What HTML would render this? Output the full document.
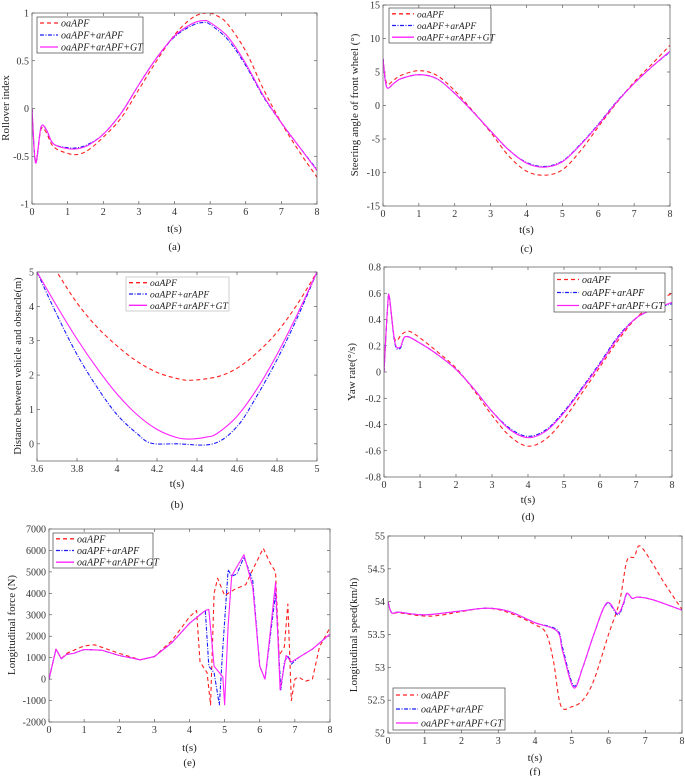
<!DOCTYPE html>
<html><head><meta charset="utf-8"><style>
body{margin:0;background:#fff;}
svg, svg text{font-family:"Liberation Serif","Times New Roman",serif;}
</style></head><body>
<svg id="fig" width="685" height="776" viewBox="0 0 685 776" xmlns="http://www.w3.org/2000/svg" font-family="Liberation Serif, serif"></svg>
<script>
// ---------- (a) Rollover index ----------
const aRedT=[0,0.1,0.25,0.4,0.6,1,1.3,1.6,2,2.5,3,3.5,4,4.5,4.9,5.2,5.5,6,6.5,7,7.5,8];
const aRedY=[0,-0.55,-0.22,-0.25,-0.4,-0.47,-0.48,-0.43,-0.3,-0.1,0.2,0.5,0.77,0.95,1.0,0.97,0.88,0.6,0.2,-0.15,-0.45,-0.72];
const aBlueT=[0,0.1,0.25,0.4,0.6,1,1.3,1.6,2,2.5,3,3.5,4,4.5,4.8,5,5.5,6,6.5,7,7.5,8];
const aBlueY=[0,-0.57,-0.2,-0.22,-0.37,-0.41,-0.41,-0.37,-0.27,-0.05,0.25,0.53,0.75,0.87,0.9,0.88,0.72,0.45,0.12,-0.15,-0.4,-0.64];
const aMagT=[0,0.1,0.25,0.4,0.6,1,1.3,1.6,2,2.5,3,3.5,4,4.5,4.8,5,5.5,6,6.5,7,7.5,8];
const aMagY=[0,-0.57,-0.2,-0.22,-0.37,-0.42,-0.42,-0.38,-0.27,-0.05,0.25,0.53,0.76,0.89,0.92,0.9,0.75,0.47,0.13,-0.15,-0.4,-0.65];
const aXTicks=[0,1,2,3,4,5,6,7,8];
const aYTicks=[-1,-0.5,0,0.5,1];
// ---------- (b) Distance ----------
const bRedT=[3.6,3.7,3.8,3.9,4,4.1,4.2,4.3,4.37,4.5,4.6,4.7,4.8,4.9,5];
const bRedY=[6,5,4.1,3.4,2.85,2.4,2.08,1.9,1.85,1.95,2.2,2.65,3.25,4.05,5];
const bBlueT=[3.6,3.7,3.8,3.9,4,4.1,4.17,4.3,4.48,4.6,4.7,4.8,4.9,5];
const bBlueY=[5,3.75,2.6,1.65,0.85,0.3,0.02,0,0,0.5,1.4,2.45,3.65,5];
const bMagT=[3.6,3.7,3.8,3.9,4,4.1,4.2,4.3,4.37,4.45,4.5,4.6,4.7,4.8,4.9,5];
const bMagY=[5,4.0,3.05,2.2,1.45,0.85,0.42,0.18,0.14,0.2,0.3,0.8,1.6,2.6,3.75,5];
const bXTicks=[3.6,3.8,4,4.2,4.4,4.6,4.8,5];
const bYTicks=[0,1,2,3,4,5];
// ---------- (c) Steering angle ----------
const cRedT=[0,0.1,0.3,0.5,1,1.5,2,2.5,3,3.5,4,4.5,5,5.5,6,6.5,7,7.5,8];
const cRedY=[7,3.3,3.8,4.5,5.2,4.5,2.2,-0.8,-4,-7.5,-9.8,-10.4,-9.6,-6.8,-3.2,0.3,3.5,6.2,9];
const cBlueT=[0,0.1,0.3,0.5,1,1.5,2,2.5,3,3.5,4,4.5,5,5.5,6,6.5,7,7.5,8];
const cBlueY=[7,2.8,3.3,4,4.6,4,1.8,-0.9,-3.8,-6.6,-8.5,-9.1,-8.3,-5.8,-2.8,0.5,3.3,5.8,8];
const cMagT=[0,0.1,0.3,0.5,1,1.5,2,2.5,3,3.5,4,4.5,5,5.5,6,6.5,7,7.5,8];
const cMagY=[7,2.8,3.3,4,4.6,4,1.8,-0.9,-3.8,-6.6,-8.6,-9.2,-8.4,-5.9,-2.9,0.4,3.3,5.8,8.1];
const cXTicks=[0,1,2,3,4,5,6,7,8];
const cYTicks=[-15,-10,-5,0,5,10,15];
// ---------- (d) Yaw rate ----------
const dRedT=[0,0.1,0.15,0.3,0.5,0.7,1,1.5,2,2.5,3,3.5,4,4.5,5,5.5,6,6.5,7,7.5,8];
const dRedY=[0,0.5,0.56,0.25,0.29,0.31,0.26,0.15,0.03,-0.14,-0.33,-0.49,-0.565,-0.51,-0.36,-0.16,0.04,0.24,0.41,0.52,0.6];
const dBlueT=[0,0.1,0.15,0.3,0.45,0.6,1,1.5,2,2.5,3,3.5,4,4.5,5,5.5,6,6.5,7,7.5,8];
const dBlueY=[0,0.5,0.57,0.22,0.18,0.27,0.22,0.13,0.02,-0.13,-0.3,-0.43,-0.49,-0.44,-0.3,-0.12,0.07,0.27,0.41,0.48,0.52];
const dMagT=[0,0.1,0.15,0.3,0.45,0.6,1,1.5,2,2.5,3,3.5,4,4.5,5,5.5,6,6.5,7,7.5,8];
const dMagY=[0,0.5,0.57,0.23,0.19,0.27,0.22,0.13,0.02,-0.13,-0.3,-0.44,-0.5,-0.45,-0.31,-0.13,0.06,0.26,0.41,0.48,0.53];
const dXTicks=[0,1,2,3,4,5,6,7,8];
const dYTicks=[-0.8,-0.6,-0.4,-0.2,0,0.2,0.4,0.6,0.8];
// ---------- (e) Longitudinal force ----------
const eRedT=[0,0.2,0.35,0.5,1,1.3,2,2.6,3,3.5,4,4.2,4.3,4.5,4.6,4.7,4.8,5,5.3,5.6,5.8,6.1,6.3,6.45,6.55,6.7,6.8,6.9,7.0,7.1,7.3,7.5,7.7,8];
const eRedY=[0,1400,950,1200,1550,1600,1200,900,1050,1800,2900,3200,800,300,-1200,4000,4700,3900,4200,4400,5100,6100,5400,5000,1100,1500,3500,-1000,0,100,-100,0,1500,2400];
const eBlueT=[0,0.2,0.35,0.5,0.7,1,1.5,2,2.6,3,3.5,4,4.45,4.55,4.7,4.85,4.95,5.1,5.2,5.35,5.55,5.8,6,6.15,6.3,6.45,6.6,6.7,6.8,6.9,7.1,7.5,8];
const eBlueY=[0,1400,950,1150,1200,1380,1350,1100,900,1050,1700,2600,3200,600,300,-1200,1500,5100,4800,4900,5700,4600,600,0,2000,4000,-500,800,1100,700,1000,1400,2100];
const eMagT=[0,0.2,0.35,0.5,0.7,1,1.5,2,2.6,3,3.5,4,4.45,4.55,4.7,4.95,5,5.1,5.2,5.3,5.55,5.8,6,6.15,6.3,6.45,6.58,6.75,6.9,7.1,7.5,8];
const eMagY=[0,1400,950,1150,1200,1380,1350,1100,900,1050,1700,2600,3200,3250,600,100,-1200,2500,4800,5100,5800,4300,600,0,2200,4500,-500,1100,800,1000,1400,2100];
const eXTicks=[0,1,2,3,4,5,6,7,8];
const eYTicks=[-2000,-1000,0,1000,2000,3000,4000,5000,6000,7000];
// ---------- (f) Longitudinal speed ----------
const fRedT=[0,0.1,0.3,1,1.5,2,2.7,3.3,4,4.3,4.5,4.7,5,5.3,5.6,6,6.3,6.5,6.7,6.85,7.2,7.5,8];
const fRedY=[54,53.83,53.83,53.78,53.8,53.85,53.9,53.83,53.65,53.52,53.1,52.42,52.4,52.5,52.8,53.5,54.0,54.62,54.68,54.85,54.58,54.3,53.88];
const fBlueT=[0,0.1,0.3,1,2,2.7,3.3,4,4.6,4.75,5.05,5.3,5.6,5.95,6.25,6.4,6.5,6.65,6.8,7.2,8];
const fBlueY=[54,53.83,53.84,53.8,53.86,53.9,53.85,53.68,53.57,53.3,52.72,53.0,53.5,53.97,53.8,53.95,54.12,54.05,54.07,54.03,53.87];
const fMagT=[0,0.1,0.3,1,2,2.7,3.3,4,4.6,4.75,5.05,5.3,5.6,5.95,6.25,6.4,6.5,6.65,6.8,7.2,8];
const fMagY=[54,53.83,53.84,53.8,53.86,53.9,53.85,53.68,53.55,53.25,52.69,53.0,53.5,53.98,53.82,53.97,54.13,54.05,54.07,54.03,53.87];
const fXTicks=[0,1,2,3,4,5,6,7,8];
const fYTicks=[52,52.5,53,53.5,54,54.5,55];

const NS="http://www.w3.org/2000/svg";
const FONT='Liberation Serif, serif';
const svg=document.getElementById('fig');
function mk(tag,attrs,parent){const e=document.createElementNS(NS,tag);for(const k in attrs)e.setAttribute(k,attrs[k]);if(tag==='text')e.setAttribute('font-family',FONT);(parent||svg).appendChild(e);return e;}

function pathFor(P,smooth){
  let d='M'+P[0][0].toFixed(2)+','+P[0][1].toFixed(2);
  for(let i=0;i<P.length-1;i++){
    if(!smooth){d+='L'+P[i+1][0].toFixed(2)+','+P[i+1][1].toFixed(2);continue;}
    const p0=P[Math.max(0,i-1)],p1=P[i],p2=P[i+1],p3=P[Math.min(P.length-1,i+2)];
    const c1x=p1[0]+(p2[0]-p0[0])/6,c1y=p1[1]+(p2[1]-p0[1])/6;
    const c2x=p2[0]-(p3[0]-p1[0])/6,c2y=p2[1]-(p3[1]-p1[1])/6;
    d+='C'+c1x.toFixed(2)+','+c1y.toFixed(2)+' '+c2x.toFixed(2)+','+c2y.toFixed(2)+' '+p2[0].toFixed(2)+','+p2[1].toFixed(2);
  }
  return d;
}

function panel(p){
  const g=mk('g',{});
  
  
  const sx=v=>p.x0+(v-p.xmin)/(p.xmax-p.xmin)*(p.x1-p.x0);
  const sy=v=>p.y1-(v-p.ymin)/(p.ymax-p.ymin)*(p.y1-p.y0);
  const clipId='clip'+p.tag;
  const cp=mk('clipPath',{id:clipId},g);
  mk('rect',{x:p.x0,y:p.y0,width:p.x1-p.x0,height:p.y1-p.y0},cp);
  p.xt.forEach(v=>{
    const X=sx(v);
    const t=mk('line',{x1:X,x2:X,y1:p.y1,y2:p.y1-3,stroke:'#444','stroke-width':0.6},g);
    
    
    mk('line',{x1:X,x2:X,y1:p.y0,y2:p.y0+3,stroke:'#444','stroke-width':0.6},g);
    const l=mk('text',{x:X,y:p.y1+11,'font-size':10,'text-anchor':'middle',fill:'#333'},g);
    l.textContent=String(v);
    
    
  });
  p.yt.forEach(v=>{
    const Y=sy(v);
    const t=mk('line',{x1:p.x0,x2:p.x0+3,y1:Y,y2:Y,stroke:'#444','stroke-width':0.6},g);
    
    
    mk('line',{x1:p.x1,x2:p.x1-3,y1:Y,y2:Y,stroke:'#444','stroke-width':0.6},g);
    const l=mk('text',{x:p.x0-3,y:Y+3.5,'font-size':10,'text-anchor':'end',fill:'#333'},g);
    l.textContent=String(v);
    
    
  });
  const styles=[
    {c:'#ff2020',d:'4,3',w:1.1,n:'series-oaapf'},
    {c:'#1a1aff',d:'4,1.5,1,1.5',w:1.1,n:'series-oaapf-arapf'},
    {c:'#ff22ff',d:'',w:1.1,n:'series-oaapf-arapf-gt'}];
  p.series.forEach((s,i)=>{
    const st=styles[i];
    const P=s[0].map((t,j)=>[sx(t),sy(s[1][j])]);
    const path=mk('path',{d:pathFor(P,p.smooth),fill:'none',stroke:st.c,'stroke-width':st.w,'stroke-dasharray':st.d,'clip-path':'url(#'+clipId+')','stroke-linejoin':'round'},g);
    
    
  });
  const box=mk('rect',{x:p.x0,y:p.y0,width:p.x1-p.x0,height:p.y1-p.y0,fill:'none',stroke:'#555','stroke-width':0.7},g);
  
  
  const xl=mk('text',{x:(p.x0+p.x1)/2,y:p.xlY,'font-size':11,'text-anchor':'middle',fill:'#222'},g);
  xl.textContent='t(s)';
  
  
  const yl=mk('text',{x:0,y:0,'font-size':p.ylSize||11,'text-anchor':'middle',fill:'#222',transform:'translate('+p.ylX+','+p.ylY+') rotate(-90)'},g);
  yl.textContent=p.ylabel;
  
  
  const cap=mk('text',{x:(p.x0+p.x1)/2,y:p.capY,'font-size':11,'text-anchor':'middle',fill:'#222'},g);
  cap.textContent='('+p.tag+')';
  
  
  const L=p.leg;
  const lg=mk('g',{},g);
  
  
  mk('rect',{x:L.x,y:L.y,width:L.w,height:L.h,fill:'#fff',stroke:L.bs||'#444','stroke-width':0.7},lg);
  const names=['oaAPF','oaAPF+arAPF','oaAPF+arAPF+GT'];
  names.forEach((n,i)=>{
    const yy=L.y+L.h/6*(2*i+1);
    const st=styles[i];
    const ln=mk('line',{x1:L.x+3,x2:L.x+3+L.ll,y1:yy,y2:yy,stroke:st.c,'stroke-width':1.3,'stroke-dasharray':st.d},lg);
    
    
    const tx=mk('text',{x:L.x+6+L.ll,y:yy+3.5,'font-size':L.fs||10,'font-style':'italic',fill:'#222'},lg);
    tx.textContent=n;
    
    
  });
}

panel({tag:'a',name:'rollover-index-chart',smooth:true,x0:32,x1:317,y0:13,y1:204,xmin:0,xmax:8,ymin:-1,ymax:1,xt:aXTicks,yt:aYTicks,
  series:[[aRedT,aRedY],[aBlueT,aBlueY],[aMagT,aMagY]],xlY:232,capY:250,ylabel:'Rollover index',ylX:9,ylY:108,
  leg:{x:37,y:17,w:106,h:36,ll:18}});
panel({tag:'b',name:'distance-chart',smooth:true,x0:37,x1:317,y0:272,y1:461,xmin:3.6,xmax:5,ymin:-0.5,ymax:5,xt:bXTicks,yt:bYTicks,
  series:[[bRedT,bRedY],[bBlueT,bBlueY],[bMagT,bMagY]],xlY:487,capY:508,ylabel:'Distance between vehicle and obstacle(m)',ylX:21,ylY:366,ylSize:10.5,
  leg:{x:126,y:277,w:103,h:34,ll:18,bs:'#bbb',fs:9.5}});
panel({tag:'c',name:'steering-angle-chart',smooth:true,x0:383,x1:670,y0:5,y1:206,xmin:0,xmax:8,ymin:-15,ymax:15,xt:cXTicks,yt:cYTicks,
  series:[[cRedT,cRedY],[cBlueT,cBlueY],[cMagT,cMagY]],xlY:233,capY:252,ylabel:'Steering angle of front wheel (°)',ylX:358,ylY:105,
  leg:{x:389,y:8,w:102,h:35,ll:22,fs:9.5}});
panel({tag:'d',name:'yaw-rate-chart',smooth:true,x0:384,x1:672,y0:267,y1:477,xmin:0,xmax:8,ymin:-0.8,ymax:0.8,xt:dXTicks,yt:dYTicks,
  series:[[dRedT,dRedY],[dBlueT,dBlueY],[dMagT,dMagY]],xlY:503,capY:520,ylabel:'Yaw rate(°/s)',ylX:355,ylY:372,
  leg:{x:554,y:273,w:111,h:39,ll:22}});
panel({tag:'e',name:'longitudinal-force-chart',smooth:false,x0:49,x1:330,y0:529,y1:722,xmin:0,xmax:8,ymin:-2000,ymax:7000,xt:eXTicks,yt:eYTicks,
  series:[[eRedT,eRedY],[eBlueT,eBlueY],[eMagT,eMagY]],xlY:751,capY:766,ylabel:'Longitudinal force (N)',ylX:15,ylY:625,
  leg:{x:53,y:533,w:100,h:35,ll:18}});
panel({tag:'f',name:'longitudinal-speed-chart',smooth:true,x0:388,x1:682,y0:536,y1:733,xmin:0,xmax:8,ymin:52,ymax:55,xt:fXTicks,yt:fYTicks,
  series:[[fRedT,fRedY],[fBlueT,fBlueY],[fMagT,fMagY]],xlY:761,capY:775,ylabel:'Longitudinal speed(km/h)',ylX:357,ylY:635,
  leg:{x:393,y:688,w:112,h:42,ll:22}});
</script>
</body></html>
